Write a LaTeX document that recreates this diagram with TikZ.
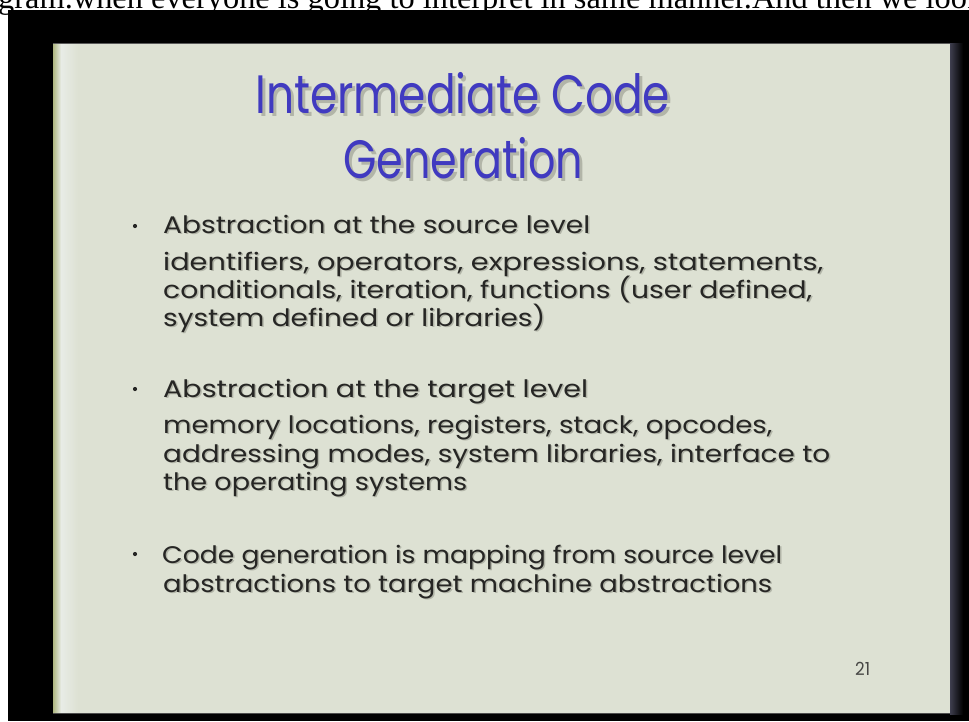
\documentclass[tikz,border=0pt]{standalone}
\usepackage{fontspec}
\setmainfont{Liberation Serif}
\newfontfamily\slidefont{Poppins}
\usepackage{graphicx}
\definecolor{slidebg}{RGB}{221,225,211}
\definecolor{titleblue}{RGB}{64,58,192}
\definecolor{bodyink}{RGB}{38,38,36}
\definecolor{shadeink}{RGB}{178,181,168}
\definecolor{edgegreen}{RGB}{176,184,130}
\definecolor{edgelight}{RGB}{232,236,230}
\definecolor{rightedge}{RGB}{62,62,78}
\newcommand\slideline[5]{%
  \node[bodyshadow] (#1s) at (#2+1.5,#3+1.5) {\resizebox{#4pt}{\height}{#5}};
  \node[body] (#1) at (#2,#3) {\resizebox{#4pt}{\height}{#5}};}
\newcommand\titleline[5]{%
  \node[titleshadow] (#1s) at (#2+3,#3+3) {\resizebox{#4pt}{\height}{#5}};
  \node[titletext] (#1) at (#2,#3) {\resizebox{#4pt}{\height}{#5}};}
\begin{document}
\begin{tikzpicture}[x=1pt,y=-1pt,
  body/.style={anchor=base west, inner sep=0pt, text=bodyink, font=\slidefont\fontsize{24}{28}\selectfont},
  bodyshadow/.style={body, text=shadeink},
  titletext/.style={anchor=base west, inner sep=0pt, text=titleblue, font=\slidefont\fontsize{54}{60}\selectfont},
  titleshadow/.style={titletext, text=shadeink},
  bulletdot/.style={circle, fill=bodyink, inner sep=0pt, minimum size=4.2pt},
  pagenum/.style={anchor=base west, inner sep=0pt, text=bodyink!85, font=\slidefont\fontsize{18}{20}\selectfont},
  caption/.style={anchor=base west, inner sep=0pt, text=black, font=\fontsize{32}{36}\selectfont}]
\useasboundingbox (0,0) rectangle (969,721);
\clip (0,0) rectangle (969,721);
\fill[white] (0,0) rectangle (969,721);
\fill[black] (8,10) rectangle (969,721);
% slide
\fill[slidebg] (53,43) rectangle (950,714);
\shade[left color=edgegreen, right color=edgelight] (53,43) rectangle (61,713);
\shade[left color=edgelight, right color=slidebg] (61,43) rectangle (78,713);
\shade[left color=rightedge, right color=black] (950,43) rectangle (963,714);
\draw[gray!70!black, line width=1.2pt] (53,43.5) -- (950,43.5);
\draw[gray!60!black, line width=1.2pt] (53,713.5) -- (950,713.5);
% caption strip
\node[caption] (cap) at (-2,8) {\resizebox{985pt}{\height}{gram.when everyone is going to interpret in same manner.And then we look}};
% title
\titleline{t1}{255}{113}{415}{Intermediate Code}
\titleline{t2}{343}{178}{240}{Generation}
% bullets
\node[bulletdot] (d1) at (135,226) {};
\node[bulletdot] (d2) at (135,389) {};
\node[bulletdot] (d3) at (135,554) {};
\slideline{a1}{163}{233}{427}{Abstraction at the source level}
\slideline{a2}{163}{270}{660}{identifiers, operators, expressions, statements,}
\slideline{a3}{163}{298}{649}{conditionals, iteration, functions (user defined,}
\slideline{a4}{163}{326}{382}{system defined or libraries)}
\slideline{b1}{163}{397}{425}{Abstraction at the target level}
\slideline{b2}{163}{433}{609}{memory locations, registers, stack, opcodes,}
\slideline{b3}{163}{462}{667}{addressing modes, system libraries, interface to}
\slideline{b4}{163}{490}{304}{the operating systems}
\slideline{c1}{162}{563}{620}{Code generation is mapping from source level}
\slideline{c2}{163}{592}{609}{abstractions to target machine abstractions}
\node[pagenum] (pg) at (855,675) {\resizebox{15pt}{\height}{21}};
\end{tikzpicture}
\end{document}
